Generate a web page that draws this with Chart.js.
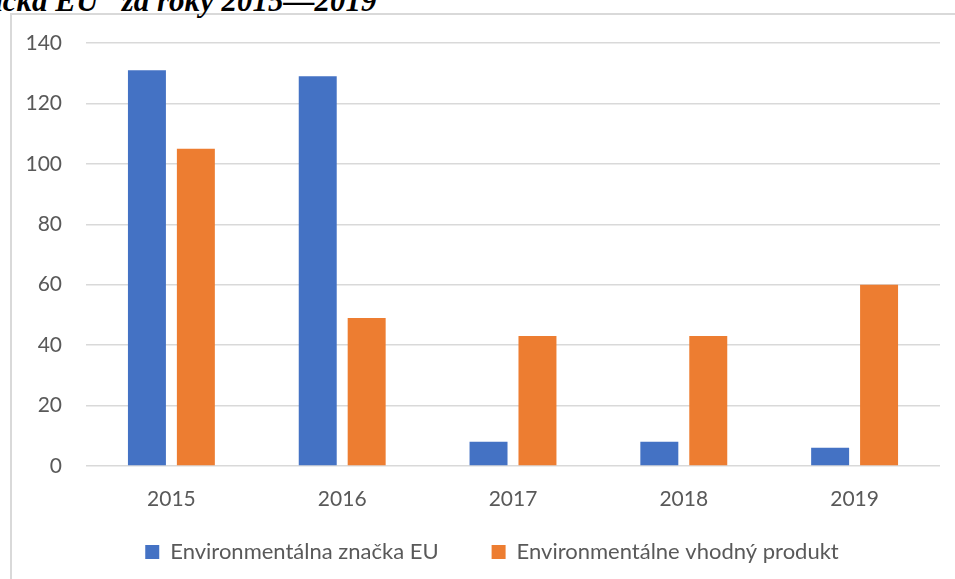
<!DOCTYPE html>
<html>
<head>
<meta charset="utf-8">
<script src="https://cdn.jsdelivr.net/npm/chart.js@4.4.0/dist/chart.umd.min.js"></script>
<style>
  html, body { margin: 0; padding: 0; background: #fff; overflow: hidden; }
  #frame { position: absolute; left: 10px; top: 13px; width: 1000px; height: 1000px; border: 2px solid #d9d9d9; box-sizing: border-box; }
  #title { position: absolute; left: -42px; top: -17px; font: italic bold 31px "Liberation Serif", "Times New Roman", serif; white-space: nowrap; color: #000; }
  #wrap { position: absolute; left: 0; top: 0; width: 955px; height: 579px; }
</style>
</head>
<body>
<div id="frame"></div>
<div id="title">značka EU“ za roky 2015—2019</div>
<div id="wrap"><canvas id="chart"></canvas></div>
<script>
const years = ["2015", "2016", "2017", "2018", "2019"];
const euLabel = [131, 129, 8, 8, 6];
const ecoProduct = [105, 49, 43, 43, 60];
const seriesNames = ["Environmentálna značka EU", "Environmentálne vhodný produkt"];

const textColor = "#595959";
const family = "Lato, 'Noto Sans', sans-serif";

// legend has wide gaps between items, so pin its height and nudge it into place
const legendPlace = {
  id: "legendPlace",
  beforeInit(chart) {
    const fit = chart.legend.fit;
    chart.legend.fit = function () {
      fit.call(this);
      this.height = 67;
    };
  },
  afterLayout(chart) {
    chart.legend.top -= 24;
    chart.legend.left += 22;
    chart.legend.right += 22;
  },
};

const ctx = document.getElementById("chart").getContext("2d");
new Chart(ctx, {
  type: "bar",
  data: {
    labels: years,
    datasets: [
      { label: seriesNames[0], data: euLabel, backgroundColor: "#4472C4" },
      { label: seriesNames[1], data: ecoProduct, backgroundColor: "#ED7D31" },
    ],
  },
  options: {
    responsive: true,
    maintainAspectRatio: false,
    animation: false,
    categoryPercentage: 0.573,
    barPercentage: 0.776,
    layout: { padding: { top: 43, right: 15, left: 0, bottom: 0 } },
    plugins: {
      legend: {
        position: "bottom",
        labels: { boxWidth: 14, boxHeight: 14, padding: 53, color: textColor, font: { family: family, size: 22 } },
      },
      tooltip: { enabled: false },
    },
    scales: {
      x: {
        grid: { display: false },
        border: { display: false },
        ticks: { color: textColor, font: { family: family, size: 21 }, padding: 13 },
        afterFit(scale) { scale.height = 46; },
      },
      y: {
        min: 0,
        max: 140,
        ticks: { stepSize: 20, color: textColor, font: { family: family, size: 21 }, padding: 24 },
        grid: { color: "#d9d9d9", lineWidth: 1.5, drawTicks: false },
        border: { display: false },
        afterFit(scale) { scale.width = 86; },
      },
    },
  },
  plugins: [legendPlace],
});
</script>
</body>
</html>
